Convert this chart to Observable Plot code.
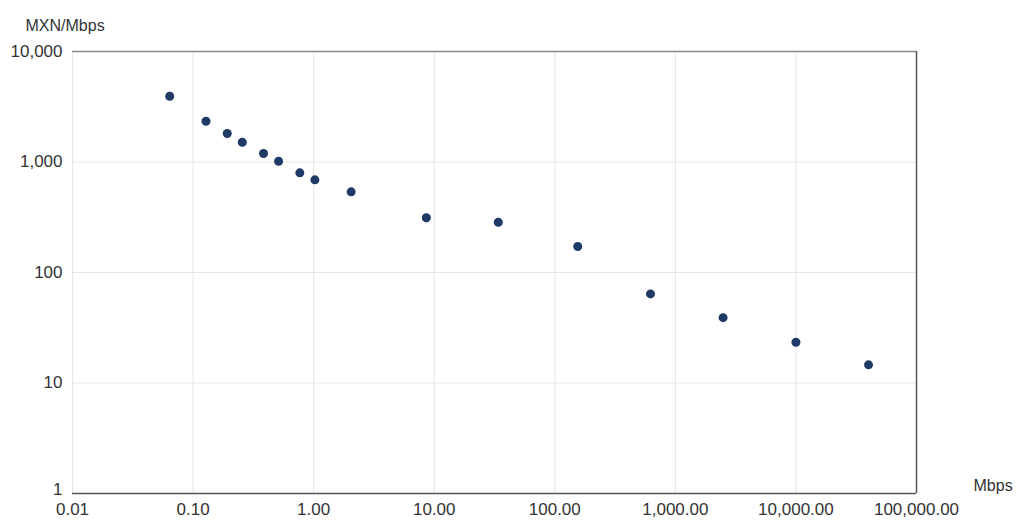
<!DOCTYPE html>
<html>
<head>
<meta charset="utf-8">
<script src="https://cdn.jsdelivr.net/npm/d3@7"></script>
<script src="https://cdn.jsdelivr.net/npm/@observablehq/plot@0.6"></script>
<style>
  html, body { margin: 0; padding: 0; background: #fff; }
  #chart svg { display: block; }
</style>
</head>
<body>
<div id="chart"></div>
<script>
// Link speed (Mbps) and unit price (MXN per Mbps)
const speeds = [0.064, 0.128, 0.192, 0.256, 0.384, 0.512, 0.768, 1.024, 2.048, 8.6, 34, 155, 622, 2488, 10000, 40000];
const prices = [3940, 2340, 1810, 1510, 1195, 1015, 798, 690, 537, 313, 285, 172, 64, 39, 23.4, 14.6];

const xTicks = [0.01, 0.1, 1, 10, 100, 1000, 10000, 100000];
const yTicks = [1, 10, 100, 1000, 10000];

const yTitle = "MXN/Mbps";
const xTitle = "Mbps";

const data = speeds.map((s, i) => ({speed: s, price: prices[i]}));

const font = "'Liberation Sans', Arial, sans-serif";
const ink = "#333";
const yFormat = d3.format(",");

const chart = Plot.plot({
  width: 1023,
  height: 520,
  marginLeft: 72,
  marginRight: 107,
  marginTop: 51,
  marginBottom: 27,
  style: {fontFamily: font, fontSize: "17px", color: ink, background: "#fff"},
  x: {type: "log", domain: [0.01, 100000]},
  y: {type: "log", domain: [1, 10000]},
  marks: [
    Plot.gridX(xTicks, {stroke: "#e6e6e6", strokeOpacity: 1}),
    Plot.gridY(yTicks, {stroke: "#e6e6e6", strokeOpacity: 1}),
    Plot.ruleY([10000], {stroke: "#888", strokeWidth: 1.5}),
    Plot.ruleX([100000], {stroke: "#555", strokeWidth: 1.5}),
    Plot.ruleY([1], {stroke: "#555", strokeWidth: 1.5}),
    Plot.axisX(xTicks, {
      tickSize: 0, tickPadding: 9, label: null,
      tickFormat: d3.format(",.2f"), fill: ink
    }),
    // upper y ticks sit on their gridlines; the bottom "1" rides just above the x axis line
    Plot.axisY(yTicks.filter((t) => t > 1), {
      tickSize: 0, tickPadding: 10, label: null, tickFormat: yFormat, fill: ink
    }),
    Plot.axisY(yTicks.filter((t) => t === 1), {
      tickSize: 0, tickPadding: 10, label: null, tickFormat: yFormat, fill: ink, dy: -4
    }),
    Plot.dot(data, {x: "speed", y: "price", r: 4.5, fill: "#1f3a66", stroke: "none"}),
    Plot.text([yTitle], {frameAnchor: "top-left", textAnchor: "start", dx: -47, dy: -32, fill: ink, fontSize: 16}),
    Plot.text([xTitle], {frameAnchor: "bottom-right", textAnchor: "start", dx: 57, dy: -3, fill: ink, fontSize: 16})
  ]
});

document.getElementById("chart").appendChild(chart);
</script>
</body>
</html>
